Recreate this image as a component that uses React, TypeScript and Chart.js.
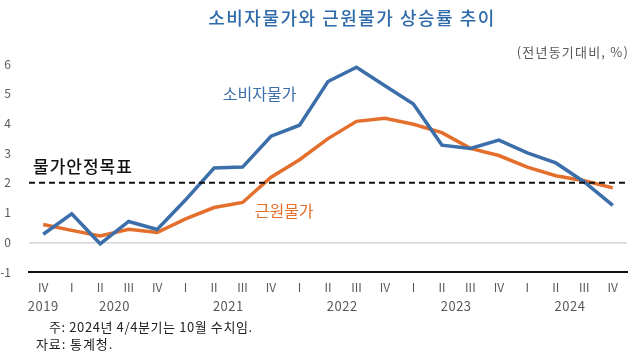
import React, { useEffect, useRef } from "react";
import { Chart, registerables } from "chart.js";

Chart.register(...registerables);

const quarters = ["IV", "I", "II", "III", "IV", "I", "II", "III", "IV", "I", "II", "III", "IV", "I", "II", "III", "IV", "I", "II", "III", "IV"];
const years = ["2019", "2020", "2021", "2022", "2023", "2024"];
const cpi = [0.27, 0.96, -0.05, 0.7, 0.43, 1.43, 2.5, 2.53, 3.57, 3.94, 5.41, 5.89, 5.27, 4.65, 3.27, 3.16, 3.44, 3.01, 2.67, 2.03, 1.24];
const core = [0.6, 0.4, 0.21, 0.44, 0.33, 0.79, 1.17, 1.34, 2.19, 2.78, 3.49, 4.07, 4.17, 3.97, 3.69, 3.16, 2.92, 2.53, 2.24, 2.07, 1.83];
const target = 2;
const yTicks = [-1, 0, 1, 2, 3, 4, 5, 6];

const title = "소비자물가와 근원물가 상승률 추이";
const unitText = "(전년동기대비, %)";
const cpiLabel = "소비자물가";
const coreLabel = "근원물가";
const targetLabel = "물가안정목표";
const note1 = "주: 2024년 4/4분기는 10월 수치임.";
const note2 = "자료: 통계청.";

const BLUE = "#3C6EA9";
const ORANGE = "#E46F2C";
const KR = "'Noto Sans CJK KR', 'Noto Sans', sans-serif";

const textPlugin = {
  id: "texts",
  afterDraw(chart: any) {
    const ctx = chart.ctx;
    const xs = chart.scales.x;
    const ys = chart.scales.y;
    const area = chart.chartArea;
    ctx.save();
    // target dashed line
    ctx.beginPath();
    ctx.setLineDash([6, 4]);
    ctx.lineWidth = 2;
    ctx.strokeStyle = "#111";
    const ty = ys.getPixelForValue(target);
    ctx.moveTo(area.left, ty);
    ctx.lineTo(area.right, ty);
    ctx.stroke();
    ctx.setLineDash([]);

    // title
    ctx.fillStyle = "#2F6BAA";
    ctx.font = `500 18px ${KR}`;
    ctx.letterSpacing = "1.5px";
    ctx.textAlign = "center";
    ctx.textBaseline = "middle";
    ctx.fillText(title, 352, 18);

    // unit
    ctx.fillStyle = "#595959";
    ctx.font = `13px ${KR}`;
    ctx.letterSpacing = "1.2px";
    ctx.textAlign = "right";
    ctx.fillText(unitText, 629, 52);

    // series labels
    ctx.letterSpacing = "0px";
    ctx.font = `16px ${KR}`;
    ctx.textAlign = "center";
    ctx.fillStyle = BLUE;
    ctx.fillText(cpiLabel, xs.getPixelForValue(7.6), ys.getPixelForValue(4.98));
    ctx.fillStyle = ORANGE;
    ctx.fillText(coreLabel, xs.getPixelForValue(8.46), ys.getPixelForValue(1.06));
    ctx.fillStyle = "#111";
    ctx.font = `500 17px ${KR}`;
    ctx.letterSpacing = "1px";
    ctx.textAlign = "left";
    ctx.fillText(targetLabel, 33, ys.getPixelForValue(2.55));

    // years
    ctx.letterSpacing = "0.5px";
    ctx.fillStyle = "#595959";
    ctx.font = `13px ${KR}`;
    ctx.textAlign = "center";
    years.forEach((yr, i) => {
      let x;
      if (i === 0) x = xs.getPixelForValue(0);
      else {
        const base = 1 + (i - 1) * 4;
        x = (xs.getPixelForValue(base + 1) + xs.getPixelForValue(base + 2)) / 2;
      }
      ctx.fillText(yr, x, 306);
    });

    // notes
    ctx.fillStyle = "#222";
    ctx.font = `13px ${KR}`;
    ctx.textAlign = "left";
    ctx.letterSpacing = "0.6px";
    ctx.fillText(note1, 49, 327);
    ctx.letterSpacing = "0.9px";
    ctx.fillText(note2, 36, 344);
    ctx.restore();
  },
};

export default function App() {
  const ref = useRef<HTMLCanvasElement | null>(null);
  useEffect(() => {
    document.body.style.margin = "0";
    const chart = new Chart(ref.current as HTMLCanvasElement, {
      type: "line",
      data: {
        labels: quarters,
        datasets: [
          { label: cpiLabel, data: cpi, borderColor: BLUE, borderWidth: 3.5, pointRadius: 0, tension: 0, fill: false },
          { label: coreLabel, data: core, borderColor: ORANGE, borderWidth: 3.5, pointRadius: 0, tension: 0, fill: false },
        ],
      },
      options: {
        animation: false,
        responsive: false,
        maintainAspectRatio: false,
        layout: { padding: { top: 64, right: 13, left: 0, bottom: 0 } },
        plugins: { legend: { display: false }, title: { display: false }, tooltip: { enabled: false } },
        scales: {
          x: {
            offset: true,
            grid: { display: false, drawTicks: false },
            border: { display: true, color: "#111", width: 2 },
            ticks: { color: "#595959", font: { family: KR, size: 12 }, padding: 8, maxRotation: 0, autoSkip: false },
            afterFit: (s: any) => { s.height = 82; },
          },
          y: {
            min: -1,
            max: 6,
            afterBuildTicks: (s: any) => { s.ticks = yTicks.map((v) => ({ value: v })); },
            grid: {
              drawTicks: false,
              color: (c: any) => (c.tick && c.tick.value === 0 ? "#d4d4d4" : "rgba(0,0,0,0)"),
              lineWidth: 1.5,
            },
            border: { display: false },
            ticks: { color: "#595959", font: { family: KR, size: 12 }, padding: 18 },
            afterFit: (s: any) => { s.width = 29; },
          },
        },
      },
      plugins: [textPlugin],
    });
    return () => chart.destroy();
  }, []);
  return (
    <div style={{ width: 640, height: 354, background: "#fff" }}>
      <canvas ref={ref} width={640} height={354} style={{ display: "block" }} />
    </div>
  );
}
